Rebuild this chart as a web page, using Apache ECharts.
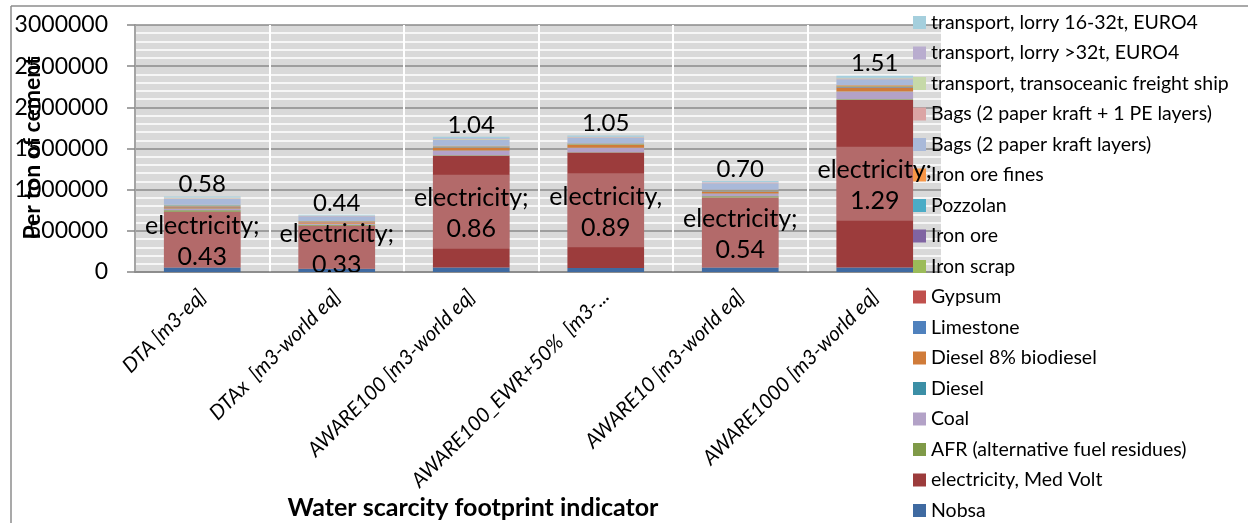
<!DOCTYPE html>
<html>
<head>
<meta charset="utf-8">
<script src="https://cdn.jsdelivr.net/npm/echarts@6/dist/echarts.min.js"></script>
<style>
  html, body { margin: 0; padding: 0; background: #ffffff; }
  #chart { width: 1248px; height: 523px; }
</style>
</head>
<body>
<div id="chart"></div>
<script>
// Water scarcity footprint per ton of cement, by indicator and contributor.
const categories = [
  'DTA [m3-eq]',
  'DTAx  [m3-world eq]',
  'AWARE100 [m3-world eq]',
  'AWARE100_EWR+50%  [m3-...',
  'AWARE10 [m3-world eq]',
  'AWARE1000 [m3-world eq]'
];

// Contributions, bottom of the stack first
const nobsa        = [0.034, 0.025, 0.034, 0.030, 0.034, 0.034];
const electricity  = [0.43, 0.33, 0.86, 0.89, 0.54, 1.29];
const afr          = [0.011, 0.008, 0.004, 0.002, 0.008, 0.004];
const coal         = [0.012, 0.008, 0.034, 0.032, 0.020, 0.058];
const diesel       = [0.002, 0.001, 0.003, 0.002, 0.002, 0.003];
const diesel8      = [0.010, 0.008, 0.018, 0.020, 0.012, 0.030];
const limestone    = [0.003, 0.002, 0.004, 0.003, 0.003, 0.004];
const gypsum       = [0.003, 0.002, 0.003, 0.002, 0.003, 0.003];
const ironScrap    = [0.006, 0.005, 0.004, 0.003, 0.003, 0.004];
const ironOre      = [0.002, 0.001, 0.002, 0.002, 0.002, 0.002];
const pozzolan     = [0.002, 0.001, 0.002, 0.002, 0.002, 0.002];
const ironOreFines = [0.003, 0.002, 0.003, 0.003, 0.003, 0.004];
const bagsKraft    = [0.046, 0.035, 0.045, 0.040, 0.050, 0.045];
const bagsKraftPE  = [0.004, 0.003, 0.004, 0.003, 0.004, 0.004];
const shipFreight  = [0.003, 0.002, 0.004, 0.003, 0.003, 0.004];
const lorry32      = [0.003, 0.002, 0.004, 0.003, 0.003, 0.004];
const lorry16      = [0.006, 0.005, 0.012, 0.010, 0.008, 0.015];

// Wording of the electricity labels
const electricityWords = ['electricity;', 'electricity;', 'electricity;', 'electricity,', 'electricity;', 'electricity;'];

// Left axis tick values
const yTicksMax = 3000000;
const yTickStep = 500000;
// Range of the value scale the stacks are drawn on
const valueScaleMax = 1.9;

const seriesDefs = [
  { name: 'Nobsa', data: nobsa, color: '#3f6aa1' },
  { name: 'electricity, Med Volt', data: electricity, color: '#9c3c3c' },
  { name: 'AFR (alternative fuel residues)', data: afr, color: '#7f9a48' },
  { name: 'Coal', data: coal, color: '#b3a2c7' },
  { name: 'Diesel', data: diesel, color: '#3c8fa6' },
  { name: 'Diesel 8% biodiesel', data: diesel8, color: '#d07b39' },
  { name: 'Limestone', data: limestone, color: '#4f81bd' },
  { name: 'Gypsum', data: gypsum, color: '#c0504d' },
  { name: 'Iron scrap', data: ironScrap, color: '#9bbb59' },
  { name: 'Iron ore', data: ironOre, color: '#8064a2' },
  { name: 'Pozzolan', data: pozzolan, color: '#4bacc6' },
  { name: 'Iron ore fines', data: ironOreFines, color: '#f79646' },
  { name: 'Bags (2 paper kraft layers)', data: bagsKraft, color: '#a9b9d9' },
  { name: 'Bags (2 paper kraft + 1 PE layers)', data: bagsKraftPE, color: '#dba5a4' },
  { name: 'transport, transoceanic freight ship', data: shipFreight, color: '#c6d9a8' },
  { name: 'transport, lorry >32t, EURO4', data: lorry32, color: '#b9adcf' },
  { name: 'transport, lorry 16-32t, EURO4', data: lorry16, color: '#a5cfdd' }
];

const FONT = 'Lato, "Open Sans", sans-serif';

function stackTotal(i) {
  return seriesDefs.reduce((s, d) => s + d.data[i], 0);
}

const barSeries = seriesDefs.map((d, k) => {
  const s = {
    name: d.name,
    type: 'bar',
    stack: 'total',
    xAxisIndex: 0,
    yAxisIndex: 1,
    barWidth: '57%',
    data: d.data,
    itemStyle: { color: d.color },
    emphasis: { disabled: true },
    z: 2
  };
  if (k === seriesDefs.length - 1) {
    s.label = {
      show: true,
      position: 'top',
      distance: 0,
      color: '#000',
      fontFamily: FONT,
      fontSize: 24,
      formatter: p => stackTotal(p.dataIndex).toFixed(2)
    };
  }
  return s;
});

// Electricity label with its pale box, kept inside the electricity segment
const electricityLabel = {
  type: 'custom',
  name: 'electricity label',
  xAxisIndex: 0,
  yAxisIndex: 1,
  clip: true,
  z: 5,
  silent: true,
  data: categories.map((c, i) => [i, nobsa[i], electricity[i]]),
  renderItem: function (params, api) {
    const i = api.value(0);
    const base = api.value(1);
    const val = api.value(2);
    const top = api.coord([i, base + val]);
    const bottom = api.coord([i, base]);
    const w = api.size([1, 0])[0] * 0.57;
    const cx = top[0];
    const cy = (top[1] + bottom[1]) / 2;
    const half = 37;
    const y0 = Math.max(top[1], cy - half);
    const y1 = Math.min(bottom[1], cy + half);
    return {
      type: 'group',
      children: [
        {
          type: 'rect',
          shape: { x: cx - w / 2, y: y0, width: w, height: y1 - y0 },
          style: { fill: 'rgba(255,255,255,0.24)' }
        },
        {
          type: 'text',
          x: cx,
          y: cy + 2,
          style: {
            text: electricityWords[i] + '\n' + val.toFixed(2),
            fill: '#000',
            font: '25px ' + FONT,
            lineHeight: 31,
            align: 'center',
            verticalAlign: 'middle'
          }
        }
      ]
    };
  }
};

const chart = echarts.init(document.getElementById('chart'), null, { renderer: 'canvas' });

chart.setOption({
  animation: false,
  backgroundColor: '#ffffff',
  grid: {
    left: 135, right: 306, top: 25, bottom: 251,
    show: true,
    backgroundColor: '#d9d9d9',
    borderWidth: 0
  },
  legend: {
    orient: 'vertical',
    left: 913,
    top: 12.5,
    height: 510,
    padding: 0,
    itemWidth: 13,
    itemHeight: 13,
    itemGap: 10.5,
    icon: 'rect',
    selectedMode: false,
    data: seriesDefs.map(d => d.name).reverse(),
    textStyle: { color: '#000', fontFamily: FONT, fontSize: 19.5, lineHeight: 20 },
    itemStyle: { borderWidth: 0 }
  },
  xAxis: {
    type: 'category',
    data: categories,
    axisLine: { show: true, lineStyle: { color: '#868686', width: 1.5 } },
    axisTick: { show: false },
    splitLine: { show: true, lineStyle: { color: '#ffffff', width: 2 } },
    axisLabel: {
      rotate: 45,
      interval: 0,
      margin: 21,
      color: '#000',
      fontFamily: FONT,
      fontStyle: 'italic',
      fontSize: 20.5
    }
  },
  yAxis: [
    {
      type: 'value',
      min: 0,
      max: yTicksMax,
      interval: yTickStep,
      axisLine: { show: true, lineStyle: { color: '#868686', width: 1.5 } },
      axisTick: { show: true, length: 8, lineStyle: { color: '#868686', width: 1.5 } },
      splitLine: { show: true, lineStyle: { color: '#8a8a8a', width: 1.5 } },
      minorTick: { show: false, splitNumber: 5 },
      minorSplitLine: { show: true, lineStyle: { color: '#ffffff', width: 1.5 } },
      axisLabel: {
        margin: 27, color: '#000', fontFamily: FONT, fontSize: 23,
        formatter: v => String(v)
      }
    },
    {
      type: 'value',
      min: 0,
      max: valueScaleMax,
      show: false,
      splitLine: { show: false }
    }
  ],
  graphic: [
    {
      type: 'line',
      shape: { x1: 11, y1: 6, x2: 1248, y2: 6 },
      style: { stroke: '#8c8c8c', lineWidth: 1.5 },
      z: 1
    },
    {
      type: 'line',
      shape: { x1: 11, y1: 6, x2: 11, y2: 523 },
      style: { stroke: '#8c8c8c', lineWidth: 1.5 },
      z: 1
    },
    {
      type: 'text',
      x: 33,
      y: 148,
      rotation: Math.PI / 2,
      style: {
        text: 'Per ton of cement',
        fill: '#000',
        font: 'bold 23px ' + FONT,
        align: 'center',
        verticalAlign: 'middle'
      },
      z: 10
    },
    {
      type: 'text',
      x: 473,
      y: 508,
      style: {
        text: 'Water scarcity footprint indicator',
        fill: '#000',
        font: 'bold 25px ' + FONT,
        align: 'center',
        verticalAlign: 'middle'
      },
      z: 10
    }
  ],
  series: barSeries.concat([electricityLabel])
});
</script>
</body>
</html>
